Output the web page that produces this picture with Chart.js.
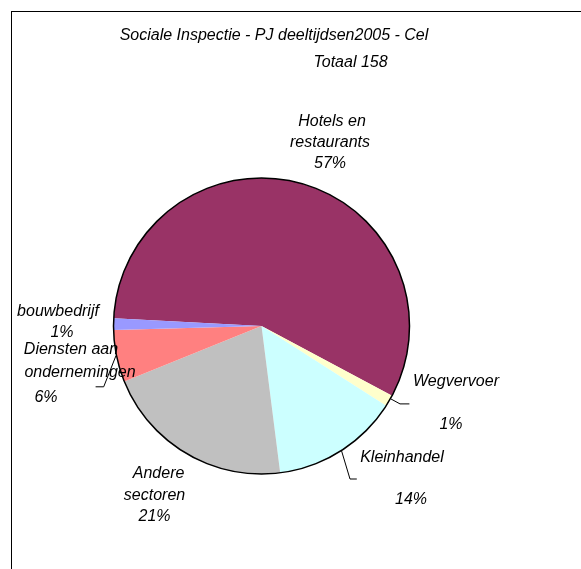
<!DOCTYPE html>
<html>
<head>
<meta charset="utf-8">
<script src="https://cdn.jsdelivr.net/npm/chart.js@4"></script>
<style>
    body { margin: 0; background: #fff; }
    #wrap { position: relative; width: 581px; height: 569px; overflow: hidden; }
    #frame { position: absolute; left: 11px; top: 11px; width: 700px; height: 700px; border-left: 1px solid #000; border-top: 1px solid #000; }
    canvas { position: absolute; left: 0; top: 0; }
</style>
</head>
<body>
<div id="wrap">
    <div id="frame"></div>
    <canvas id="chart" width="581" height="569"></canvas>
</div>
<script>
// Data
const sectors = ['Hotels en restaurants', 'Wegvervoer', 'Kleinhandel', 'Andere sectoren', 'Diensten aan ondernemingen', 'bouwbedrijf'];
const counts = [90, 2, 22, 33, 9, 2];
const sliceColors = ['#993366', '#FFFFCC', '#CCFFFF', '#C0C0C0', '#FF8080', '#9999FF'];
const titleText = 'Sociale Inspectie - PJ deeltijdsen2005 - Cel';

const total = counts.reduce((a, b) => a + b, 0);

// label lines per slice (the percentage is added as last line)
const labelLines = [
    ['Hotels en', 'restaurants'],
    ['Wegvervoer'],
    ['Kleinhandel'],
    ['Andere', 'sectoren'],
    ['Diensten aan', 'ondernemingen'],
    ['bouwbedrijf']
];
// positions of each text line, relative to the pie centre
const labelOffsets = [
    [[70.5, -204.4], [68.5, -183.4], [68.5, -162]],
    [[194.5, 56], [189.5, 98.5]],
    [[140.5, 132], [149.5, 174]],
    [[-102.9, 148], [-107, 169.6], [-107, 190.3]],
    [[-190.5, 23.8], [-181.5, 47], [-215.5, 72]],
    [[-203.5, -14], [-199.5, 7]]
];
// leader lines (relative to pie centre)
const leaders = [
    null,
    [[129.5, 73], [138.5, 77.9], [147.9, 77.9]],
    [[80.1, 125], [88.5, 153], [95.3, 153]],
    null,
    [[-145.5, 29.6], [-157.8, 60.8], [-165.9, 60.8]],
    null
];

const FONT = 'italic 16px "Liberation Sans", Arial, sans-serif';

const piePlugin = {
    id: 'pieDecor',
    afterDatasetsDraw(chart) {
        const ctx = chart.ctx;
        const arcs = chart.getDatasetMeta(0).data;
        const cx = arcs[0].x, cy = arcs[0].y, r = arcs[0].outerRadius;

        // outline round the pie
        ctx.save();
        ctx.beginPath();
        ctx.arc(cx, cy, r, 0, Math.PI * 2);
        ctx.strokeStyle = '#000';
        ctx.lineWidth = 1.5;
        ctx.stroke();

        // titles
        ctx.font = FONT;
        ctx.fillStyle = '#000';
        ctx.textAlign = 'center';
        ctx.textBaseline = 'middle';
        ctx.fillText(titleText, 274, 35.6);
        ctx.fillText('Totaal ' + total, 350.5, 62.4);

        // leader lines
        ctx.lineWidth = 1;
        leaders.forEach(pts => {
            if (!pts) return;
            ctx.beginPath();
            pts.forEach((p, i) => {
                if (i === 0) ctx.moveTo(cx + p[0], cy + p[1]);
                else ctx.lineTo(cx + p[0], cy + p[1]);
            });
            ctx.stroke();
        });

        // labels
        counts.forEach((v, i) => {
            const pct = Math.round(v / total * 100) + '%';
            const lines = labelLines[i].concat([pct]);
            lines.forEach((t, j) => {
                const o = labelOffsets[i][j];
                ctx.fillText(t, cx + o[0], cy + o[1]);
            });
        });
        ctx.restore();
    }
};

const ctx = document.getElementById('chart').getContext('2d');
const chart = new Chart(ctx, {
    type: 'pie',
    data: {
        labels: sectors,
        datasets: [{
            data: counts,
            backgroundColor: sliceColors,
            borderWidth: 0
        }]
    },
    options: {
        responsive: false,
        animation: false,
        rotation: 273,
        layout: {
            padding: { left: 113.5, right: 171.5, top: 178, bottom: 95 }
        },
        plugins: {
            legend: { display: false },
            tooltip: { enabled: false }
        }
    },
    plugins: [piePlugin]
});
</script>
</body>
</html>
